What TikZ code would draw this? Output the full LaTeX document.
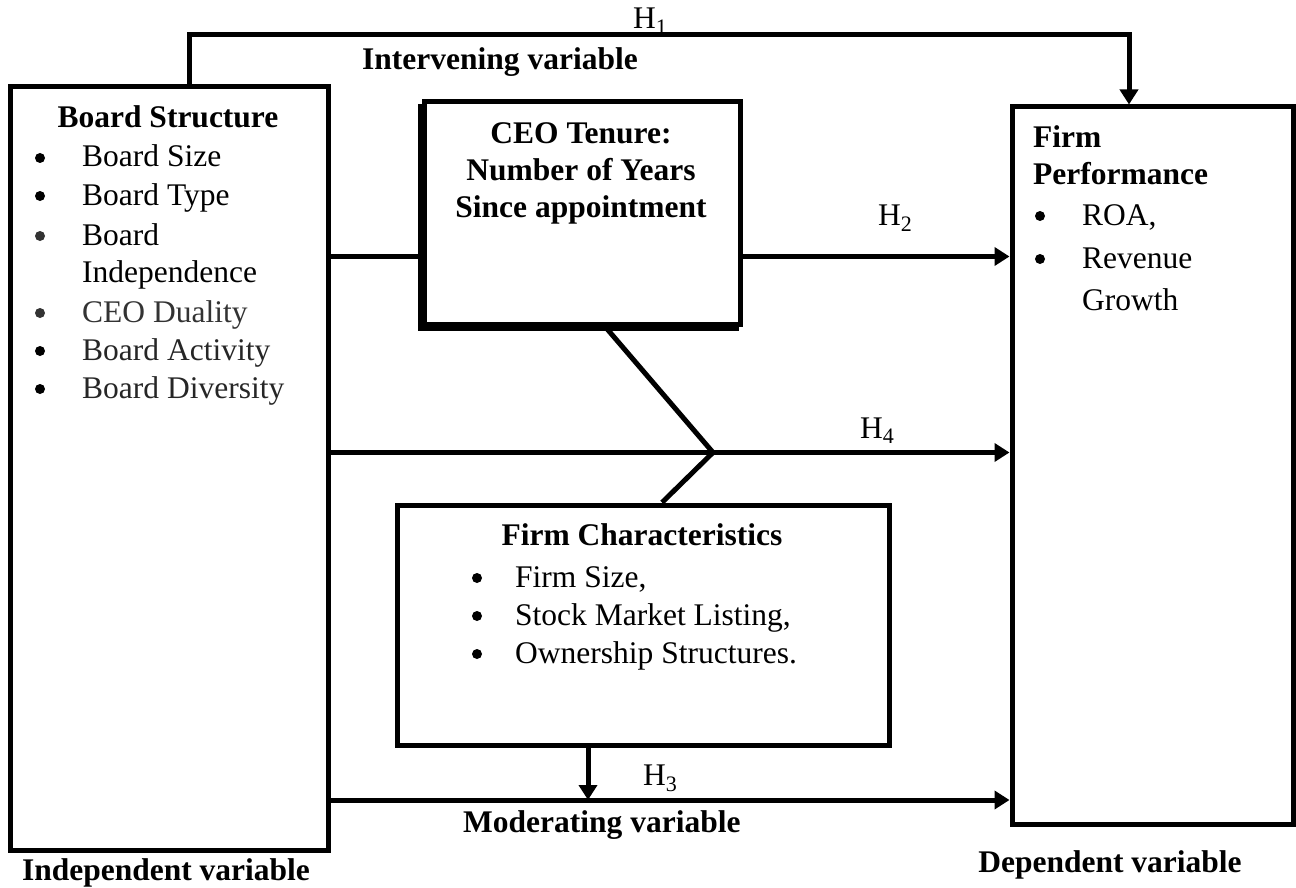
\documentclass[tikz,border=0pt]{standalone}
\usepackage{fontspec}
\setmainfont{Liberation Serif}
\usepackage{xcolor}
\usetikzlibrary{shapes,arrows.meta,positioning,calc}

\tikzset{
  box/.style={draw=black, line width=5pt, fill=white},
  link/.style={draw=black, line width=5pt, line join=miter},
  arrowlink/.style={link, -{Triangle[length=15pt,width=18pt]}},
  txt/.style={inner sep=0pt, anchor=base west, font=\fontsize{31.5}{38}\selectfont},
  ctxt/.style={txt, anchor=base},
  btxt/.style={txt, font=\fontsize{31.5}{38}\selectfont\bfseries},
  cbtxt/.style={btxt, anchor=base},
  dot/.style={circle, fill=black, inner sep=0pt, minimum size=10pt, yshift=9pt}
}

\begin{document}
\begin{tikzpicture}[x=1pt, y=-1pt]
\useasboundingbox (0,0) rectangle (1296,888);

\node[box, minimum width=318pt, minimum height=763pt] (board) at (169,468.5) {};
\node[box, minimum width=315.5pt, minimum height=222.5pt] (ceo) at (582.25,212.75) {};
\draw[line width=5pt] ([shift={(-1.5pt,-5pt)}]ceo.north west) -- ([shift={(-1.5pt,-1.5pt)}]ceo.south west) -- ([shift={(-4pt,-1.5pt)}]ceo.south east);
\node[box, minimum width=281pt, minimum height=717pt] (firmperf) at (1152.5,465.5) {};
\node[box, minimum width=492pt, minimum height=240pt] (firmchar) at (643,625) {};

\coordinate (hOneL) at (189.5,34.5);
\coordinate (hOneR) at (1129,34.5);
\coordinate (rowTwo) at (0,256.5);
\coordinate (rowFour) at (0,452.5);
\coordinate (rowThree) at (0,800);
\coordinate (vTip) at (713,452.5);
\coordinate (chevTop) at (605,0);
\coordinate (chevBot) at (662,0);
\coordinate (modPoint) at (588,800);

\draw[arrowlink] (hOneL |- board.north) -- (hOneL) -- (hOneR) -- (hOneR |- firmperf.north);
\draw[link] (board.east |- rowTwo) -- (ceo.west |- rowTwo);
\draw[arrowlink] (ceo.east |- rowTwo) -- (firmperf.west |- rowTwo);
\draw[arrowlink] (board.east |- rowFour) -- (firmperf.west |- rowFour);
\draw[arrowlink] (board.east |- rowThree) -- (firmperf.west |- rowThree);
\draw[link] (ceo.south -| chevTop) -- (vTip) -- (firmchar.north -| chevBot);
\draw[arrowlink] (firmchar.south -| modPoint) -- (modPoint);

\node[txt] (hOne) at (633,29) {H\textsubscript{1}};
\node[txt] (hTwo) at (878,225) {H\textsubscript{2}};
\node[txt] (hThree) at (643,785) {H\textsubscript{3}};
\node[txt] (hFour) at (860,438) {H\textsubscript{4}};

\node[btxt] (interv) at (362,70) {Intervening variable};
\node[btxt] (moder) at (463,832) {Moderating variable};
\node[cbtxt] (indep) at (166,880) {Independent variable};
\node[cbtxt] (dep) at (1110,872) {Dependent variable};

\node[cbtxt] (bsTitle) at (168,128) {Board Structure};
\foreach \yy/\txt [count=\i] in {167/Board Size, 205/Board Type, 245/Board, 282/Independence,
    322/{\color{black!80}CEO Duality}, 360/{\color{black!85}Board Activity}, 398/{\color{black!85}Board Diversity}}
  \node[txt] (bsItem\i) at (82,\yy) {\txt};
\foreach \yy/\col [count=\i] in {167/black, 205/black, 245/black!80, 322/black!80, 360/black, 398/black}
  \node[dot, fill=\col] (bsDot\i) at (40,\yy) {};

\node[cbtxt] (ceoA) at (581,143) {CEO Tenure:};
\node[cbtxt] (ceoB) at (581,180) {Number of Years};
\node[cbtxt] (ceoC) at (581,217) {Since appointment};

\node[btxt] (fpA) at (1033,148) {Firm};
\node[btxt] (fpB) at (1033,185) {Performance};
\node[dot] (fpDot1) at (1040,225) {};
\node[dot] (fpDot2) at (1040,268) {};
\node[txt] (fpItem1) at (1082,225) {ROA,};
\node[txt] (fpItem2) at (1082,268) {Revenue};
\node[txt] (fpItem3) at (1082,310) {Growth};

\node[cbtxt] (fcTitle) at (642,545) {Firm Characteristics};
\foreach \yy/\txt [count=\i] in {587/{Firm Size,}, 625/{Stock Market Listing,}, 663/{Ownership Structures.}} {
  \node[dot] (fcDot\i) at (477,\yy) {};
  \node[txt] (fcItem\i) at (515,\yy) {\txt};
}
\end{tikzpicture}
\end{document}
